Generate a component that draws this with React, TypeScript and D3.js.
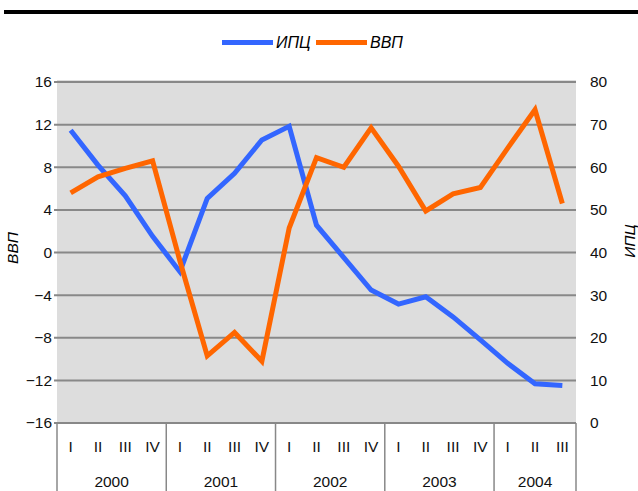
import * as d3 from 'd3';
import React, { useEffect, useRef } from 'react';

// quarters 2000 I .. 2004 III
const years = ['2000', '2001', '2002', '2003', '2004'];
const quartersPerYear = [4, 4, 4, 4, 3];
const quarterNames = ['I', 'II', 'III', 'IV'];

// ИПЦ, right axis
const cpiValues = [
  68.7, 60.5, 53.3, 43.8, 35.5, 52.7, 58.6, 66.4, 69.6, 46.4,
  38.8, 31.2, 27.9, 29.6, 24.9, 19.5, 14.0, 9.2, 8.8,
];
// ВВП, left axis
const gdpValues = [
  5.6, 7.1, 7.9, 8.6, -0.8, -9.7, -7.5, -10.2, 2.3, 8.9,
  8.0, 11.7, 8.1, 3.9, 5.5, 6.1, 9.8, 13.4, 4.6,
];

const leftTicks = [16, 12, 8, 4, 0, -4, -8, -12, -16];
const rightTicks = [80, 70, 60, 50, 40, 30, 20, 10, 0];

const W = 638;
const H = 491;

export default function App() {
  const svgRef = useRef<SVGSVGElement>(null);

  useEffect(() => {
    if (!svgRef.current) return;
    const svg = d3.select(svgRef.current);
    svg.selectAll('*').remove();

    const font = '"Liberation Sans", Arial, sans-serif';
    const fs = 15.5;
    const plot = { left: 57, right: 576, top: 82, bottom: 423 };

    const labels: string[] = [];
    years.forEach((y, i) => {
      for (let q = 0; q < quartersPerYear[i]; q++) {
        labels.push(`${y}-${quarterNames[q]}`);
      }
    });

    const x = d3.scaleBand().domain(labels).range([plot.left, plot.right]);
    const yLeft = d3.scaleLinear().domain([-16, 16]).range([plot.bottom, plot.top]);
    const yRight = d3.scaleLinear().domain([0, 80]).range([plot.bottom, plot.top]);
    const cx = (i: number) => (x(labels[i]) || 0) + x.bandwidth() / 2;

    // top black rule
    svg.append('rect').attr('x', 4).attr('y', 10).attr('width', W - 4).attr('height', 4).attr('fill', '#000');

    // plot background
    svg.append('rect')
      .attr('x', plot.left).attr('y', plot.top - 2)
      .attr('width', plot.right - plot.left).attr('height', plot.bottom - plot.top + 2)
      .attr('fill', '#dddddd');

    // gridlines
    svg.append('g').selectAll('line').data(leftTicks).join('line')
      .attr('x1', plot.left - 3).attr('x2', plot.right)
      .attr('y1', d => yLeft(d)).attr('y2', d => yLeft(d))
      .attr('stroke', '#888').attr('stroke-width', 2);

    // left tick labels
    svg.append('g').selectAll('text').data(leftTicks).join('text')
      .attr('x', 52).attr('y', d => yLeft(d)).attr('dy', '0.35em')
      .attr('text-anchor', 'end')
      .attr('font-family', font).attr('font-size', fs).attr('fill', '#111')
      .text(d => (d < 0 ? '\u2212' + Math.abs(d) : String(d)));

    // right tick labels
    svg.append('g').selectAll('text').data(rightTicks).join('text')
      .attr('x', 590).attr('y', d => yRight(d)).attr('dy', '0.35em')
      .attr('font-family', font).attr('font-size', fs).attr('fill', '#111')
      .text(d => String(d));

    // axis titles
    svg.append('text')
      .attr('transform', `translate(18,248) rotate(-90)`)
      .attr('text-anchor', 'middle')
      .attr('font-family', font).attr('font-size', fs).attr('font-style', 'italic')
      .text('ВВП');
    svg.append('text')
      .attr('transform', `translate(635,241) rotate(-90)`)
      .attr('text-anchor', 'middle')
      .attr('font-family', font).attr('font-size', fs).attr('font-style', 'italic')
      .text('ИПЦ');

    // category axis
    svg.append('line')
      .attr('x1', plot.left).attr('x2', plot.right)
      .attr('y1', plot.bottom).attr('y2', plot.bottom)
      .attr('stroke', '#888').attr('stroke-width', 2);

    const yearStarts: number[] = [];
    let k = 0;
    years.forEach((_y, i) => {
      yearStarts.push(x(labels[k]) || 0);
      k += quartersPerYear[i];
    });
    yearStarts.push(plot.right);

    svg.append('g').selectAll('line').data(yearStarts).join('line')
      .attr('x1', d => d).attr('x2', d => d)
      .attr('y1', plot.bottom).attr('y2', H)
      .attr('stroke', '#888').attr('stroke-width', 1.5);

    svg.append('g').selectAll('text').data(labels).join('text')
      .attr('x', (_d, i) => cx(i)).attr('y', 452)
      .attr('text-anchor', 'middle')
      .attr('font-family', font).attr('font-size', fs).attr('fill', '#111')
      .text(d => d.split('-')[1]);

    svg.append('g').selectAll('text').data(years).join('text')
      .attr('x', (_d, i) => (yearStarts[i] + yearStarts[i + 1]) / 2).attr('y', 487)
      .attr('text-anchor', 'middle')
      .attr('font-family', font).attr('font-size', fs).attr('fill', '#111')
      .text(d => d);

    // series
    const cpiLine = d3.line<number>().x((_d, i) => cx(i)).y(d => yRight(d));
    const gdpLine = d3.line<number>().x((_d, i) => cx(i)).y(d => yLeft(d));

    svg.append('path').datum(cpiValues)
      .attr('d', cpiLine).attr('fill', 'none')
      .attr('stroke', '#3366ff').attr('stroke-width', 5);
    svg.append('path').datum(gdpValues)
      .attr('d', gdpLine).attr('fill', 'none')
      .attr('stroke', '#ff6600').attr('stroke-width', 5);

    // legend
    const legend = [
      { name: 'ИПЦ', color: '#3366ff', x: 222 },
      { name: 'ВВП', color: '#ff6600', x: 316 },
    ];
    const lg = svg.append('g');
    lg.selectAll('rect').data(legend).join('rect')
      .attr('x', d => d.x).attr('y', 40).attr('width', 51).attr('height', 5)
      .attr('fill', d => d.color);
    lg.selectAll('text').data(legend).join('text')
      .attr('x', d => d.x + 54).attr('y', 42.5).attr('dy', '0.35em')
      .attr('font-family', font).attr('font-size', 16).attr('font-style', 'italic')
      .text(d => d.name);
  }, []);

  return (
    <svg
      ref={svgRef}
      width={W}
      height={H}
      style={{ position: 'absolute', left: 0, top: 0, background: '#fff' }}
    />
  );
}
